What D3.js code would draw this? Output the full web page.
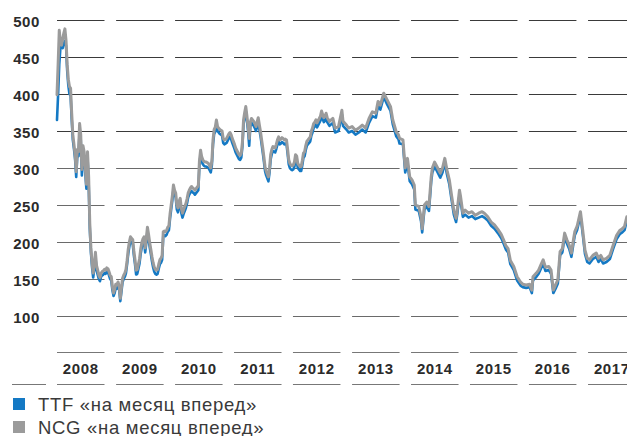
<!DOCTYPE html>
<html>
<head>
<meta charset="utf-8">
<script src="https://cdn.jsdelivr.net/npm/d3@7"></script>
<style>
  html, body { margin: 0; padding: 0; background: #fff; }
  svg { display: block; }
</style>
</head>
<body>
<svg id="chart" width="627" height="436"></svg>
<script>
// Weekly gas prices, weeks counted from 1 Jan 2008
const weeks = [
  0,1,2,3,4,5,6,7,8,9,10,11,12,13,14,15,16,17,18,19,20,21,22,23,24,25,26,27,28,29,
  30,31,32,33,34,35,36,37,38,39,40,41,42,43,44,45,46,47,48,49,50,51,52,53,54,55,56,57,58,59,
  60,61,62,63,64,65,66,67,68,69,70,71,72,73,74,75,76,77,78,79,80,81,82,83,84,85,86,87,88,89,
  90,91,92,93,94,95,96,97,98,99,100,101,102,103,104,105,106,107,108,109,110,111,112,113,114,115,116,117,118,119,
  120,121,122,123,124,125,126,127,128,129,130,131,132,133,134,135,136,137,138,139,140,141,142,143,144,145,146,147,148,149,
  150,151,152,153,154,155,156,157,158,159,160,161,162,163,164,165,166,167,168,169,170,171,172,173,174,175,176,177,178,179,
  180,181,182,183,184,185,186,187,188,189,190,191,192,193,194,195,196,197,198,199,200,201,202,203,204,205,206,207,208,209,
  210,211,212,213,214,215,216,217,218,219,220,221,222,223,224,225,226,227,228,229,230,231,232,233,234,235,236,237,238,239,
  241,244,246,249,252,253,256,258,261,264,267,270,273,276,279,282,284,286,289,292,295,297,300,302,303,306,308,310,312,314,
  316,317,320,322,323,325,327,329,331,332,334,336,339,341,343,345,347,349,351,353,354,356,357,359,361,364,367,370,373,376,
  378,381,384,387,390,393,395,397,399,401,404,407,410,412,415,418,420,421,424,426,428,430,432,435,437,439,441,443,445,447,
  449,451,453,455,457,458,460,463,465,467,469,471,474,477,479,481,483,486,489,492,495,498,500,502,504
];

// TTF front-month price
const ttf = [
  365,400,440,462,465,462,468,472,465,432,412,400,398,366,338,326,312,288,318,316,350,338,290,322,316,293,272,314,280,218,
  186,166,152,164,179,162,156,150,147,153,155,156,158,157,160,159,155,150,148,135,127,131,138,137,141,135,120,133,146,150,
  153,158,170,184,194,201,199,197,182,170,156,157,164,171,184,193,198,201,186,199,214,204,193,184,174,166,160,157,156,157,
  164,170,172,176,208,209,208,210,214,216,232,244,256,271,264,260,244,240,249,253,239,233,238,242,246,252,260,264,267,269,
  267,266,264,266,268,270,304,318,309,305,303,302,302,301,300,297,294,304,332,346,349,359,350,348,346,345,344,334,332,333,
  334,337,340,342,339,334,330,326,321,318,315,312,311,314,329,359,369,377,364,350,330,356,361,359,357,354,350,356,362,352,
  343,332,321,309,296,290,286,282,294,312,319,323,322,321,326,332,336,332,333,335,334,332,333,332,319,305,300,298,297,298,
  302,312,310,300,298,296,296,304,314,316,324,330,332,334,336,344,348,354,356,359,355,358,361,364,371,366,362,364,368,362,
  357,361,348,350,372,357,352,348,350,345,348,352,348,361,370,368,384,379,396,386,377,359,343,339,333,332,294,307,282,278,
  271,244,242,228,213,244,248,242,282,294,302,296,287,294,307,291,278,257,237,227,237,264,255,234,237,233,235,231,233,235,
  233,229,222,218,212,205,198,190,186,170,162,148,141,139,138,139,131,148,153,157,164,171,161,162,157,131,137,144,182,186,
  207,198,191,180,200,209,216,236,211,184,173,171,177,180,173,177,171,173,177,191,204,211,213,216,229
];

// NCG front-month price
const ncg = [
  399,440,486,470,466,474,482,488,472,440,420,410,408,374,345,332,318,295,325,322,360,345,298,330,322,300,278,322,288,225,
  192,172,158,170,186,168,162,155,152,158,160,161,163,162,165,164,160,155,153,140,131,136,143,142,146,140,124,138,151,155,
  158,163,175,190,200,207,205,203,188,176,162,163,170,177,190,199,204,207,192,205,220,210,199,190,180,172,166,163,162,163,
  170,176,178,182,214,215,214,216,220,222,238,250,262,277,270,266,250,246,255,259,245,239,244,248,252,258,266,270,273,275,
  273,272,270,272,274,276,310,324,315,311,309,308,308,307,306,303,300,310,338,352,355,365,356,354,352,351,350,340,338,339,
  340,343,346,348,345,340,336,332,327,324,321,318,317,320,335,365,375,383,370,356,340,362,367,365,363,360,356,362,368,358,
  349,338,327,315,302,296,292,288,300,318,325,329,328,327,332,338,342,338,339,341,340,338,339,338,325,311,306,304,303,304,
  308,318,316,306,304,302,302,310,320,322,330,336,338,340,342,350,354,360,362,365,361,364,367,370,377,372,368,370,374,368,
  363,367,354,356,378,363,358,354,356,351,354,358,354,367,376,374,390,385,401,392,383,365,349,345,340,338,300,313,288,284,
  277,250,248,234,218,250,254,248,288,300,308,302,293,300,313,297,284,263,243,232,243,270,261,239,243,239,241,236,239,241,
  239,234,227,223,217,210,203,195,191,175,167,153,146,143,142,143,135,153,158,162,169,176,166,167,162,135,142,149,187,191,
  212,203,196,185,205,214,221,241,216,189,178,176,182,185,178,182,176,178,182,196,209,216,218,221,234
];

const yTicks = [100, 150, 200, 250, 300, 350, 400, 450, 500];
const years = ["2008", "2009", "2010", "2011", "2012", "2013", "2014", "2015", "2016", "2017"];
const seriesNames = ["TTF «на месяц вперед»", "NCG «на месяц вперед»"];
const seriesColors = ["#1479c4", "#9b9b9b"];

const svg = d3.select("#chart");
const origin = new Date(2008, 0, 1);
const dates = weeks.map(w => d3.timeDay.offset(origin, w * 7));

const x = d3.scaleTime()
  .domain([origin, new Date(2018, 0, 1)])
  .range([57, 647]);
const y = d3.scaleLinear().domain([100, 500]).range([316, 20]);

const colWidth = 47.5;
const yearStarts = years.map(s => new Date(+s, 0, 1));
const crisp = v => Math.round(v) + 0.5;

// Horizontal grid, broken into one segment per year column
const grid = svg.append("g").attr("class", "grid");
yTicks.forEach(v => {
  grid.selectAll(null)
    .data(yearStarts)
    .join("line")
    .attr("x1", d => x(d))
    .attr("x2", d => x(d) + colWidth)
    .attr("y1", crisp(y(v)))
    .attr("y2", crisp(y(v)))
    .attr("stroke", v >= 350 ? "#3a3a3a" : "#6a6a6a")
    .attr("stroke-width", 1);
});

// Value labels on the left
svg.append("g")
  .selectAll("text")
  .data(yTicks)
  .join("text")
  .attr("x", 40)
  .attr("y", d => y(d) + 7)
  .attr("text-anchor", "end")
  .attr("font-family", "'Liberation Sans', Arial, sans-serif")
  .attr("font-weight", "bold")
  .attr("font-size", 15)
  .attr("letter-spacing", 0.6)
  .attr("fill", "#2b2b2b")
  .text(d => d);

// Year band under the plot
const band = svg.append("g").attr("class", "years");
[352, 384].forEach(yy => {
  band.selectAll(null)
    .data(yearStarts)
    .join("line")
    .attr("x1", d => x(d))
    .attr("x2", d => x(d) + colWidth)
    .attr("y1", yy + 0.5)
    .attr("y2", yy + 0.5)
    .attr("stroke", "#777")
    .attr("stroke-width", 1);
});
band.append("line")
  .attr("x1", 12).attr("x2", 46)
  .attr("y1", 384.5).attr("y2", 384.5)
  .attr("stroke", "#777").attr("stroke-width", 1);

band.selectAll("text")
  .data(years)
  .join("text")
  .attr("x", (d, i) => x(yearStarts[i]) + colWidth / 2)
  .attr("y", 374)
  .attr("text-anchor", "middle")
  .attr("font-family", "'Liberation Sans', Arial, sans-serif")
  .attr("font-weight", "bold")
  .attr("font-size", 15)
  .attr("letter-spacing", 0.6)
  .attr("fill", "#2b2b2b")
  .text(d => d);

// Price lines: TTF underneath, NCG on top
const line = d3.line()
  .x(d => x(d.date))
  .y(d => y(d.value));

[ttf, ncg].forEach((values, i) => {
  svg.append("path")
    .datum(values.map((v, j) => ({ date: dates[j], value: v })))
    .attr("d", line)
    .attr("fill", "none")
    .attr("stroke", seriesColors[i])
    .attr("stroke-width", i === 0 ? 2.6 : 3)
    .attr("stroke-linejoin", "round")
    .attr("stroke-linecap", "round");
});

// Legend
const legend = svg.append("g").attr("class", "legend");
seriesNames.forEach((name, i) => {
  const top = 398 + i * 23;
  legend.append("rect")
    .attr("x", 13).attr("y", top)
    .attr("width", 12).attr("height", 12)
    .attr("fill", seriesColors[i]);
  legend.append("text")
    .attr("x", 38)
    .attr("y", top + 12.5)
    .attr("font-family", "'Liberation Sans', Arial, sans-serif")
    .attr("font-size", 18.5)
    .attr("letter-spacing", 0.7)
    .attr("fill", "#3a3a3a")
    .text(name);
});
</script>
</body>
</html>
